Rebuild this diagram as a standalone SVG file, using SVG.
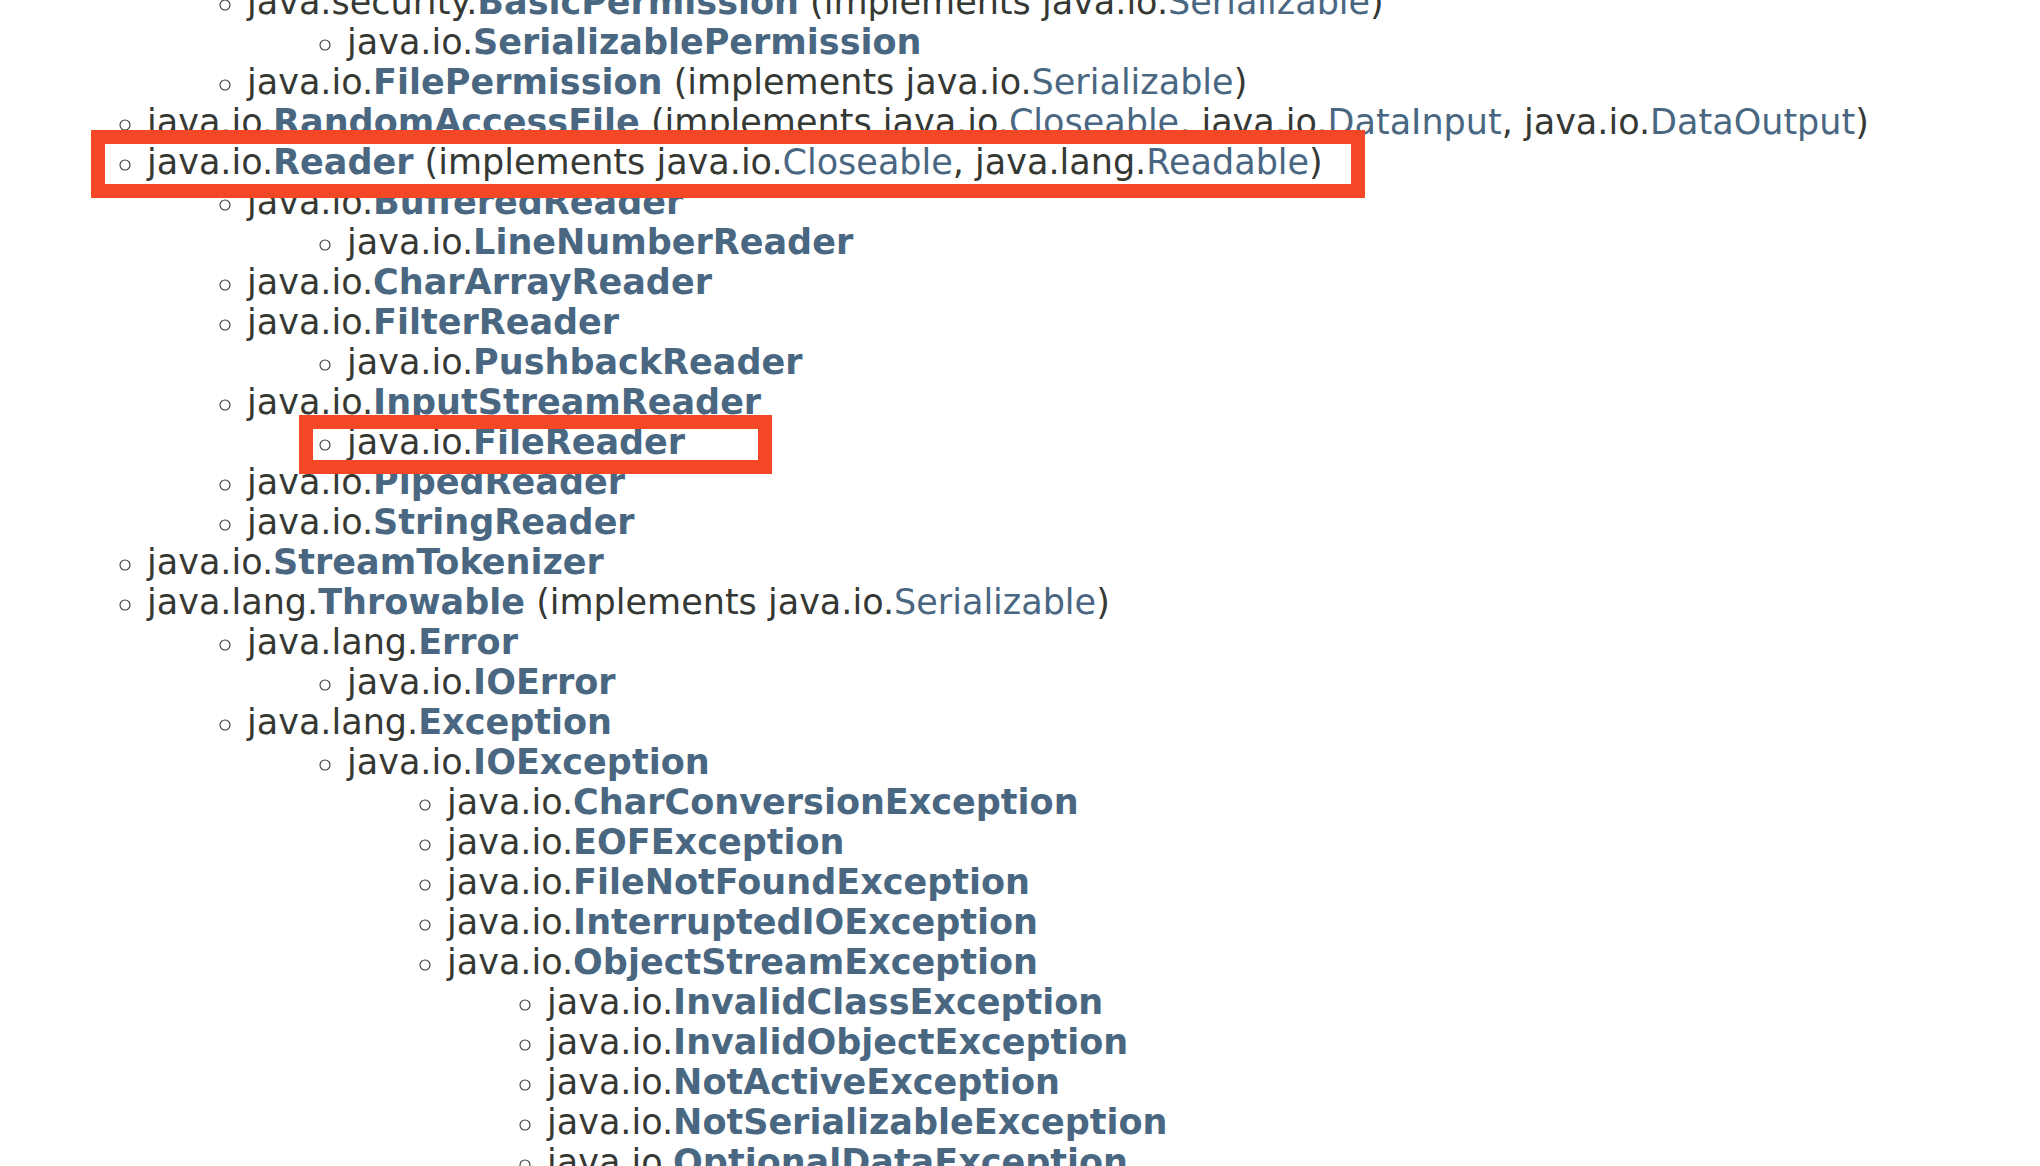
<svg xmlns="http://www.w3.org/2000/svg" width="2040" height="1166" viewBox="0 0 2040 1166">
<style>
text{font-family:"DejaVu Sans","Liberation Sans",sans-serif;font-size:35px;fill:#353833}
.b{font-weight:bold;fill:#4A6782}
.l{fill:#4A6782}
.bul{fill:none;stroke:#353833;stroke-width:1.1}
.hl{fill:none;stroke:#F44725;stroke-width:14}
</style>
<rect width="2040" height="1166" fill="#ffffff"/>
<g id="rows">
<g id="r0"><circle class="bul" cx="225" cy="5" r="5"/><text x="247" y="14">java.security.<tspan class="b">BasicPermission</tspan> (implements java.io.<tspan class="l">Serializable</tspan>)</text></g>
<g id="r1"><circle class="bul" cx="325" cy="45" r="5"/><text x="347" y="54">java.io.<tspan class="b">SerializablePermission</tspan></text></g>
<g id="r2"><circle class="bul" cx="225" cy="85" r="5"/><text x="247" y="94">java.io.<tspan class="b">FilePermission</tspan> (implements java.io.<tspan class="l">Serializable</tspan>)</text></g>
<g id="r3"><circle class="bul" cx="125" cy="125" r="5"/><text x="147" y="134">java.io.<tspan class="b">RandomAccessFile</tspan> (implements java.io.<tspan class="l">Closeable</tspan>, java.io.<tspan class="l">DataInput</tspan>, java.io.<tspan class="l">DataOutput</tspan>)</text></g>
<g id="r4"><circle class="bul" cx="125" cy="165" r="5"/><text x="147" y="174">java.io.<tspan class="b">Reader</tspan> (implements java.io.<tspan class="l">Closeable</tspan>, java.lang.<tspan class="l">Readable</tspan>)</text></g>
<g id="r5"><circle class="bul" cx="225" cy="205" r="5"/><text x="247" y="214">java.io.<tspan class="b">BufferedReader</tspan></text></g>
<g id="r6"><circle class="bul" cx="325" cy="245" r="5"/><text x="347" y="254">java.io.<tspan class="b">LineNumberReader</tspan></text></g>
<g id="r7"><circle class="bul" cx="225" cy="285" r="5"/><text x="247" y="294">java.io.<tspan class="b">CharArrayReader</tspan></text></g>
<g id="r8"><circle class="bul" cx="225" cy="325" r="5"/><text x="247" y="334">java.io.<tspan class="b">FilterReader</tspan></text></g>
<g id="r9"><circle class="bul" cx="325" cy="365" r="5"/><text x="347" y="374">java.io.<tspan class="b">PushbackReader</tspan></text></g>
<g id="r10"><circle class="bul" cx="225" cy="405" r="5"/><text x="247" y="414">java.io.<tspan class="b">InputStreamReader</tspan></text></g>
<g id="r11"><circle class="bul" cx="325" cy="445" r="5"/><text x="347" y="454">java.io.<tspan class="b">FileReader</tspan></text></g>
<g id="r12"><circle class="bul" cx="225" cy="485" r="5"/><text x="247" y="494">java.io.<tspan class="b">PipedReader</tspan></text></g>
<g id="r13"><circle class="bul" cx="225" cy="525" r="5"/><text x="247" y="534">java.io.<tspan class="b">StringReader</tspan></text></g>
<g id="r14"><circle class="bul" cx="125" cy="565" r="5"/><text x="147" y="574">java.io.<tspan class="b">StreamTokenizer</tspan></text></g>
<g id="r15"><circle class="bul" cx="125" cy="605" r="5"/><text x="147" y="614">java.lang.<tspan class="b">Throwable</tspan> (implements java.io.<tspan class="l">Serializable</tspan>)</text></g>
<g id="r16"><circle class="bul" cx="225" cy="645" r="5"/><text x="247" y="654">java.lang.<tspan class="b">Error</tspan></text></g>
<g id="r17"><circle class="bul" cx="325" cy="685" r="5"/><text x="347" y="694">java.io.<tspan class="b">IOError</tspan></text></g>
<g id="r18"><circle class="bul" cx="225" cy="725" r="5"/><text x="247" y="734">java.lang.<tspan class="b">Exception</tspan></text></g>
<g id="r19"><circle class="bul" cx="325" cy="765" r="5"/><text x="347" y="774">java.io.<tspan class="b">IOException</tspan></text></g>
<g id="r20"><circle class="bul" cx="425" cy="805" r="5"/><text x="447" y="814">java.io.<tspan class="b">CharConversionException</tspan></text></g>
<g id="r21"><circle class="bul" cx="425" cy="845" r="5"/><text x="447" y="854">java.io.<tspan class="b">EOFException</tspan></text></g>
<g id="r22"><circle class="bul" cx="425" cy="885" r="5"/><text x="447" y="894">java.io.<tspan class="b">FileNotFoundException</tspan></text></g>
<g id="r23"><circle class="bul" cx="425" cy="925" r="5"/><text x="447" y="934">java.io.<tspan class="b">InterruptedIOException</tspan></text></g>
<g id="r24"><circle class="bul" cx="425" cy="965" r="5"/><text x="447" y="974">java.io.<tspan class="b">ObjectStreamException</tspan></text></g>
<g id="r25"><circle class="bul" cx="525" cy="1005" r="5"/><text x="547" y="1014">java.io.<tspan class="b">InvalidClassException</tspan></text></g>
<g id="r26"><circle class="bul" cx="525" cy="1045" r="5"/><text x="547" y="1054">java.io.<tspan class="b">InvalidObjectException</tspan></text></g>
<g id="r27"><circle class="bul" cx="525" cy="1085" r="5"/><text x="547" y="1094">java.io.<tspan class="b">NotActiveException</tspan></text></g>
<g id="r28"><circle class="bul" cx="525" cy="1125" r="5"/><text x="547" y="1134">java.io.<tspan class="b">NotSerializableException</tspan></text></g>
<g id="r29"><circle class="bul" cx="525" cy="1165" r="5"/><text x="547" y="1174">java.io.<tspan class="b">OptionalDataException</tspan></text></g>
</g>
<g id="highlight-reader"><rect class="hl" x="98" y="137" width="1260" height="54"/></g>
<g id="highlight-filereader"><rect class="hl" x="306" y="422" width="459" height="45"/></g>
</svg>
